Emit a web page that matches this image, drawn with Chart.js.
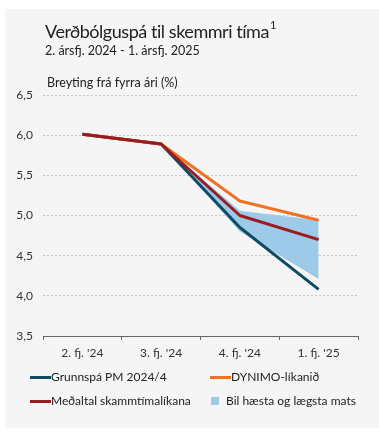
<!DOCTYPE html>
<html><head><meta charset="utf-8">
<script src="https://cdn.jsdelivr.net/npm/chart.js@4"></script>
<style>
html,body{margin:0;padding:0;background:#fff;}
#wrap{position:relative;width:379px;height:433px;overflow:hidden;font-family:Lato,"Open Sans",sans-serif;color:#222;}
#panel{position:absolute;left:5px;top:9px;width:374px;height:419px;background:#f5f5f5;}
#c{position:absolute;left:0;top:0;}
.t{position:absolute;white-space:nowrap;line-height:1.2;}
#title{left:45px;top:21px;font-size:18px;letter-spacing:-0.45px;}
#title sup{font-size:11px;vertical-align:top;position:relative;top:-3px;margin-left:1px;}
#sub{left:45px;top:43px;font-size:12.5px;}
#ytitle{left:47px;top:75px;font-size:12.5px;}
.leg{position:absolute;font-size:12px;white-space:nowrap;}
.ln{position:absolute;height:3px;width:21px;}
.sq{position:absolute;width:8px;height:8px;}
</style></head>
<body>
<div id="wrap">
<div id="panel"></div>
<canvas id="c" width="379" height="433"></canvas>
<div class="t" id="title">Verðbólguspá til skemmri tíma<sup>1</sup></div>
<div class="t" id="sub">2. ársfj. 2024 - 1. ársfj. 2025</div>
<div class="t" id="ytitle">Breyting frá fyrra ári (%)</div>
<div id="legend"></div>
</div>
<script>
const categories = ["2. fj. '24", "3. fj. '24", "4. fj. '24", "1. fj. '25"];
const grunnspa = [6.01, 5.89, 4.85, 4.08];
const dynimo = [6.01, 5.89, 5.18, 4.94];
const medaltal = [6.01, 5.89, 5.00, 4.70];
const bandHigh = [null, 5.89, 5.06, 4.94];
const bandLow = [null, 5.89, 4.80, 4.21];
const yTicks = [3.5, 4.0, 4.5, 5.0, 5.5, 6.0, 6.5];
const seriesNames = ["Grunnspá PM 2024/4", "DYNIMO-líkanið", "Meðaltal skammtímalíkana", "Bil hæsta og lægsta mats"];

const C_BLUE = '#0f4c63', C_ORANGE = '#ef7224', C_RED = '#9b1c20', C_BAND = '#9dcae9';

const lineDs = (label, data, color, order) => ({
  label, data, borderColor: color, backgroundColor: color, borderWidth: 3,
  pointRadius: 0, fill: false, tension: 0, order, borderJoinStyle: 'round', borderCapStyle: 'butt'
});

new Chart(document.getElementById('c'), {
  type: 'line',
  data: {
    labels: categories,
    datasets: [
      {label: seriesNames[3], data: bandHigh, borderWidth: 0, pointRadius: 0, backgroundColor: C_BAND, borderColor: C_BAND, fill: '+1', order: 10},
      {label: 'low', data: bandLow, borderWidth: 0, pointRadius: 0, backgroundColor: C_BAND, borderColor: C_BAND, fill: false, order: 11},
      lineDs(seriesNames[0], grunnspa, C_BLUE, 3),
      lineDs(seriesNames[1], dynimo, C_ORANGE, 2),
      lineDs(seriesNames[2], medaltal, C_RED, 1)
    ]
  },
  options: {
    responsive: false, animation: false, devicePixelRatio: 1,
    layout: {padding: {left: 0, right: 21, top: 95, bottom: 0}},
    plugins: {legend: {display: false}, tooltip: {enabled: false}},
    scales: {
      x: {
        offset: true,
        grid: {offset: true, drawOnChartArea: false, drawTicks: true, tickLength: 4, color: '#666', lineWidth: 1},
        border: {display: true, color: '#666', width: 1},
        ticks: {color: '#333', font: {family: 'Lato', size: 12}, padding: 6, maxRotation: 0},
        afterFit: s => { s.height = 97; }
      },
      y: {
        min: 3.5, max: 6.5,
        afterBuildTicks: s => { s.ticks = yTicks.map(v => ({value: v})); },
        grid: {drawTicks: false, color: '#c8c8c8', lineWidth: 1},
        border: {display: false, dash: [2, 2]},
        ticks: {color: '#333', font: {family: 'Lato', size: 12}, padding: 10,
          callback: v => v.toFixed(1).replace('.', ',')},
        afterFit: s => { s.width = 43; }
      }
    }
  }
});

// HTML legend
const legend = document.getElementById('legend');
const items = [
  {name: seriesNames[0], color: C_BLUE, type: 'line', x: 30, y: 377},
  {name: seriesNames[1], color: C_ORANGE, type: 'line', x: 210, y: 377},
  {name: seriesNames[2], color: C_RED, type: 'line', x: 30, y: 401},
  {name: seriesNames[3], color: C_BAND, type: 'box', x: 211, y: 401}
];
items.forEach(it => {
  if (it.type === 'line') {
    const l = document.createElement('div'); l.className = 'ln';
    l.style.left = it.x + 'px'; l.style.top = (it.y - 1) + 'px'; l.style.background = it.color;
    legend.appendChild(l);
    const t = document.createElement('div'); t.className = 'leg';
    t.style.left = (it.x + 21) + 'px'; t.style.top = (it.y - 8) + 'px'; t.textContent = it.name;
    legend.appendChild(t);
  } else {
    const b = document.createElement('div'); b.className = 'sq';
    b.style.left = it.x + 'px'; b.style.top = (it.y - 4) + 'px'; b.style.background = it.color;
    legend.appendChild(b);
    const t = document.createElement('div'); t.className = 'leg';
    t.style.left = (it.x + 15) + 'px'; t.style.top = (it.y - 8) + 'px'; t.textContent = it.name;
    legend.appendChild(t);
  }
});
</script>
</body></html>
